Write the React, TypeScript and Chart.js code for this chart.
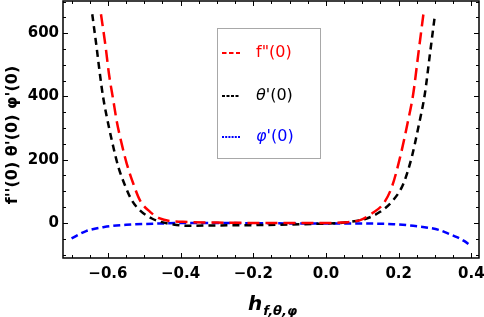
import React, { useEffect, useRef } from "react";
import { Chart, registerables } from "chart.js";

Chart.register(...registerables);

// f''(0) — red
const fX = [-0.619, -0.606, -0.597, -0.585, -0.576, -0.562, -0.548, -0.53, -0.512, -0.484, -0.457, -0.43, -0.38, -0.3, -0.2, -0.1, 0.0, 0.04, 0.094, 0.126, 0.158, 0.181, 0.204, 0.224, 0.24, 0.254, 0.268];
const fY = [660, 555, 471, 387, 324, 250, 187, 124, 72, 35, 14, 6, 3, 1, 0, 0, 0, 1, 9, 30, 61, 113, 208, 313, 408, 534, 660];

// θ'(0) — black
const thetaX = [-0.643, -0.631, -0.622, -0.613, -0.599, -0.585, -0.571, -0.553, -0.534, -0.512, -0.479, -0.457, -0.42, -0.38, -0.3, -0.2, -0.1, 0.0, 0.04, 0.066, 0.112, 0.149, 0.185, 0.213, 0.236, 0.254, 0.272, 0.286, 0.3];
const thetaY = [660, 555, 471, 397, 313, 240, 176, 119, 71, 40, 14, 4, -5, -9, -8, -7, -5, -2, 0, 3, 14, 35, 72, 124, 208, 302, 408, 534, 660];

// φ'(0) — blue
const phiX = [-0.7, -0.66, -0.61, -0.55, -0.46, -0.365, -0.2, 0.0, 0.1, 0.185, 0.24, 0.28, 0.31, 0.335, 0.36, 0.38, 0.4];
const phiY = [-49, -26, -13, -6, -2, 0, -1, -2, -2, -4, -9, -15, -22, -33, -45, -57, -74];

const seriesLabels = ['f"(0)', "θ'(0)", "φ'(0)"];
const seriesColors = ["rgb(255,0,0)", "rgb(0,0,0)", "rgb(0,0,255)"];

const xTicks = [-0.6, -0.4, -0.2, 0.0, 0.2, 0.4];
const xMinorTicks = [-0.7, -0.65, -0.55, -0.5, -0.45, -0.35, -0.3, -0.25, -0.15, -0.1, -0.05, 0.05, 0.1, 0.15, 0.25, 0.3, 0.35];
const yTicks = [0, 200, 400, 600];
const yMinorTicks = [-100, -50, 50, 100, 150, 250, 300, 350, 450, 500, 550, 650, 700];

const toPts = (xs: number[], ys: number[]) => xs.map((x, i) => ({ x, y: ys[i] }));

const zeroPad = (s: any) => {
  s.paddingTop = 0;
  s.paddingBottom = 0;
  s.paddingLeft = 0;
  s.paddingRight = 0;
};

const framePlugin = {
  id: "framePlugin",
  afterDraw(chart: any) {
    const { ctx, chartArea } = chart;
    const { left, right, top, bottom } = chartArea;
    const xs = chart.scales.x;
    const ys = chart.scales.y;
    ctx.save();
    // frame
    ctx.strokeStyle = "#000";
    ctx.lineWidth = 1.5;
    ctx.setLineDash([]);
    ctx.strokeRect(left, top, right - left, bottom - top);
    // ticks
    ctx.lineWidth = 1;
    const drawX = (v: number, len: number) => {
      const p = Math.round(xs.getPixelForValue(v)) + 0.5;
      ctx.beginPath();
      ctx.moveTo(p, bottom);
      ctx.lineTo(p, bottom - len);
      ctx.moveTo(p, top);
      ctx.lineTo(p, top + len);
      ctx.stroke();
    };
    const drawY = (v: number, len: number) => {
      const p = Math.round(ys.getPixelForValue(v)) + 0.5;
      ctx.beginPath();
      ctx.moveTo(left, p);
      ctx.lineTo(left + len, p);
      ctx.moveTo(right, p);
      ctx.lineTo(right - len, p);
      ctx.stroke();
    };
    xTicks.forEach((v) => drawX(v, 5));
    xMinorTicks.forEach((v) => drawX(v, 3));
    yTicks.forEach((v) => drawY(v, 5));
    yMinorTicks.forEach((v) => drawY(v, 3));

    // y title
    ctx.save();
    ctx.translate(13, 135);
    ctx.rotate(-Math.PI / 2);
    ctx.fillStyle = "#000";
    ctx.font = "bold 16px 'DejaVu Sans'";
    ctx.textAlign = "center";
    ctx.textBaseline = "middle";
    ctx.fillText("f''(0) θ'(0) φ'(0)", 0, 0);
    ctx.restore();

    // x title
    ctx.fillStyle = "#000";
    ctx.textAlign = "left";
    ctx.textBaseline = "alphabetic";
    ctx.font = "italic bold 20px 'DejaVu Sans'";
    const hx = 248;
    ctx.fillText("h", hx, 310);
    const hw = ctx.measureText("h").width;
    ctx.font = "italic bold 13px 'DejaVu Sans'";
    ctx.fillText("f,θ,φ", hx + hw + 1, 315);

    // legend
    const bx = 217.5, by = 28.5, bw = 103, bh = 130;
    ctx.fillStyle = "#fff";
    ctx.fillRect(bx, by, bw, bh);
    ctx.strokeStyle = "#a8a8a8";
    ctx.lineWidth = 1;
    ctx.strokeRect(bx, by, bw, bh);
    const rowsY = [53, 96, 137];
    const sampleDash = [[4.5, 2.5], [3, 1.5], [2, 1.2]];
    rowsY.forEach((ry, i) => {
      ctx.strokeStyle = seriesColors[i];
      ctx.lineWidth = 2;
      ctx.setLineDash(sampleDash[i]);
      ctx.beginPath();
      ctx.moveTo(222, ry);
      ctx.lineTo(240, ry);
      ctx.stroke();
      ctx.setLineDash([]);
      ctx.fillStyle = seriesColors[i];
      ctx.textBaseline = "middle";
      const label = seriesLabels[i];
      let tx = 256;
      if (i === 0) {
        ctx.font = "16px 'DejaVu Sans'";
        ctx.fillText(label, tx, ry);
      } else {
        ctx.font = "italic 16px 'DejaVu Sans'";
        const first = label.charAt(0);
        ctx.fillText(first, tx, ry);
        tx += ctx.measureText(first).width;
        ctx.font = "16px 'DejaVu Sans'";
        ctx.fillText(label.slice(1), tx, ry);
      }
    });
    ctx.restore();
  },
};

export default function App() {
  const ref = useRef<HTMLCanvasElement | null>(null);
  useEffect(() => {
    if (!ref.current) return;
    const chart = new Chart(ref.current, {
      type: "line",
      data: {
        datasets: [
          {
            label: seriesLabels[0],
            data: toPts(fX, fY),
            borderColor: seriesColors[0],
            borderWidth: 2.5,
            borderDash: [12, 6],
            pointRadius: 0,
            cubicInterpolationMode: "monotone",
            fill: false,
          },
          {
            label: seriesLabels[1],
            data: toPts(thetaX, thetaY),
            borderColor: seriesColors[1],
            borderWidth: 2.5,
            borderDash: [7, 5],
            pointRadius: 0,
            cubicInterpolationMode: "monotone",
            fill: false,
          },
          {
            label: seriesLabels[2],
            data: toPts(phiX, phiY),
            borderColor: seriesColors[2],
            borderWidth: 2.5,
            borderDash: [7, 4],
            pointRadius: 0,
            cubicInterpolationMode: "monotone",
            fill: false,
          },
        ],
      },
      options: {
        responsive: false,
        animation: false,
        devicePixelRatio: 1,
        layout: { padding: { top: 1, right: 5, left: 0, bottom: 0 } },
        plugins: { legend: { display: false }, tooltip: { enabled: false } },
        scales: {
          x: {
            type: "linear",
            min: -0.7235,
            max: 0.421,
            grid: { display: false, drawTicks: false },
            border: { display: false },
            afterFit: (s: any) => {
              s.height = 59;
              zeroPad(s);
            },
            afterBuildTicks: (s: any) => {
              s.ticks = xTicks.map((v) => ({ value: v }));
            },
            ticks: {
              padding: 7,
              color: "#000",
              font: { family: "'DejaVu Sans'", size: 15, weight: "bold" },
              callback: (v: any) => {
                const n = Number(v);
                const s = Math.abs(n).toFixed(1);
                return n < -1e-9 ? "\u2212" + s : s;
              },
            },
          },
          y: {
            type: "linear",
            min: -111,
            max: 702,
            grid: { display: false, drawTicks: false },
            border: { display: false },
            afterFit: (s: any) => {
              s.width = 63;
              zeroPad(s);
            },
            afterBuildTicks: (s: any) => {
              s.ticks = yTicks.map((v) => ({ value: v }));
            },
            ticks: {
              padding: 4,
              color: "#000",
              font: { family: "'DejaVu Sans'", size: 15, weight: "bold" },
              callback: (v: any) => String(v),
            },
          },
        },
      },
      plugins: [framePlugin],
    } as any);
    return () => chart.destroy();
  }, []);
  return (
    <div style={{ position: "fixed", left: 0, top: 0, width: 484, height: 317, background: "#fff" }}>
      <canvas ref={ref} width={484} height={317} />
    </div>
  );
}
